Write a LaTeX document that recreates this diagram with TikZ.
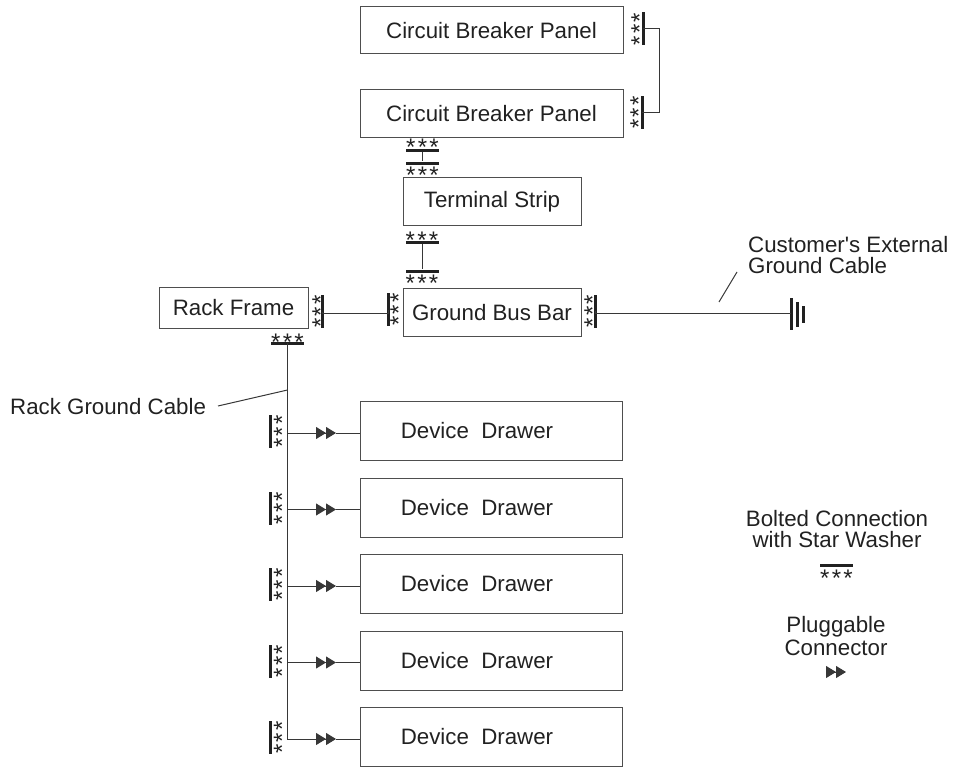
\documentclass[tikz,border=0pt]{standalone}
\usepackage{fontspec}
\setmainfont{Liberation Sans}
\usetikzlibrary{calc,positioning,arrows.meta}
\definecolor{ink}{gray}{0.13}
\newcommand{\starrow}{\raisebox{-12.8pt}{*\kern2.3pt*\kern2.3pt*}}
\newcommand{\apos}{\XeTeXglyph\XeTeXglyphindex "quotesingle"\relax}
\tikzset{
  unit/.style={draw=ink!80, line width=1pt, inner sep=0pt, text=ink, font=\fontsize{22.3}{23}\selectfont},
  lab/.style={inner sep=0pt, text=ink, font=\fontsize{22.3}{23}\selectfont},
  stars/.style={inner sep=0pt, text=ink, text height=0pt, text depth=0pt, font=\fontsize{24}{26}\selectfont},
  barv/.style={fill=ink, inner sep=0pt, minimum width=3pt, minimum height=33pt},
  barh/.style={fill=ink, inner sep=0pt, minimum width=33pt, minimum height=3pt},
  gnd/.style={fill=ink, inner sep=0pt, minimum width=3pt},
  wire/.style={draw=ink!90, line width=1pt},
  plug/.style={wire, fill=ink, -{Triangle[length=10pt,width=12pt]Triangle[length=10pt,width=12pt]}}
}
\begin{document}
\begin{tikzpicture}[x=1pt, y=-1pt]
\useasboundingbox (0,0) rectangle (954,768);
% boxes
\node[unit, minimum width=263pt, minimum height=47pt] (cb1) at (491.5,30.5) {Circuit Breaker Panel};
\node[unit, minimum width=263pt, minimum height=47pt] (cb2) at (491.5,113.5) {Circuit Breaker Panel};
\node[unit, minimum width=178pt, minimum height=48pt] (ts) at (492,201.5) {Terminal Strip};
\node[unit, minimum width=178pt, minimum height=48pt] (gb) at (492,312.5) {Ground Bus Bar};
\node[unit, minimum width=149pt, minimum height=41pt] (rf) at (233.5,307.5) {Rack Frame};
% panel to panel
\node[barv] (b1) at (643,29) {};
\node[barv] (b2) at (642,112.5) {};
\node[stars, rotate=90] at (635,29) {\starrow};
\node[stars, rotate=90] at (634,112.5) {\starrow};
\draw[wire] (b1.center) -| (659,112.5) -- (b2.center);
% panel to strip
\node[barh] (b3) at (422.5,150) {};
\node[barh] (b4) at (422.5,163) {};
\node[stars] at (422.5,143) {\starrow};
\node[stars] at (422.5,170.5) {\starrow};
\draw[wire] (b3) -- (b4);
% strip to bus bar
\node[barh] (b5) at (422,242) {};
\node[barh] (b6) at (422,271) {};
\node[stars] at (422,236) {\starrow};
\node[stars] at (422,278.5) {\starrow};
\draw[wire] (b5) -- (b6);
% frame to bus bar
\node[barv] (b7) at (322,311.5) {};
\node[barv] (b8) at (388,309.5) {};
\node[stars, rotate=90] at (316,311.5) {\starrow};
\node[stars, rotate=90] at (394,309.5) {\starrow};
\draw[wire] (b7.center) -- (322,313) -- (388,313) -- (b8.center);
% outside ground
\node[barv] (b9) at (595,311) {};
\node[stars, rotate=90] at (588,311) {\starrow};
\node[gnd, minimum height=32pt] (g1) at (791,314) {};
\node[gnd, minimum height=25pt] (g2) at (797,314) {};
\node[gnd, minimum height=17pt] (g3) at (803,314) {};
\draw[wire] (b9.center) -- (595,313) -- (g1.center |- 0,313);
\node[lab, align=left, anchor=west] (cust) at (748,255) {Customer\apos s External\\[-2pt]Ground Cable};
\coordinate (c1) at (737,272);
\coordinate (c2) at (719,302);
\draw[wire] (c1) -- (c2);
% rack ground cable
\node[barh] (b10) at (287.5,343) {};
\node[stars] at (287.5,338) {\starrow};
\coordinate (t5) at (287.5,740);
\draw[wire] (b10.center) -- (t5);
\node[lab, anchor=west] (rgc) at (10,407) {Rack Ground Cable};
\coordinate (c3) at (218,406);
\coordinate (c4) at (287.5,390);
\draw[wire] (c3) -- (c4);
% drawers
\foreach \i/\y in {1/431,2/507.5,3/584,4/660.5,5/737}{
  \node[unit, minimum width=262pt, minimum height=59pt] (d\i) at (491,\y) {\hspace*{-28pt}Device\ \ Drawer};
  \coordinate (j\i) at (287.5,\y+2);
  \coordinate (p\i) at (336,\y+2);
  \draw[plug] (j\i) -- (p\i);
  \draw[wire] (p\i) -- (d\i.west |- p\i);
  \node[barv] at (270,\y+0.5) {};
  \node[stars, rotate=90] at (277.5,\y+0.5) {\starrow};
}
% legend
\node[lab, align=center] (k1) at (837,529.5) {Bolted Connection\\[-2pt]with Star Washer};
\node[barh] (b11) at (836.5,565) {};
\node[stars] at (836.5,574) {\starrow};
\node[lab, align=center] (k2) at (836,636.5) {Pluggable\\Connector};
\coordinate (k3) at (826,672);
\coordinate (k4) at (846,672);
\draw[plug] (k3) -- (k4);
\end{tikzpicture}
\end{document}
